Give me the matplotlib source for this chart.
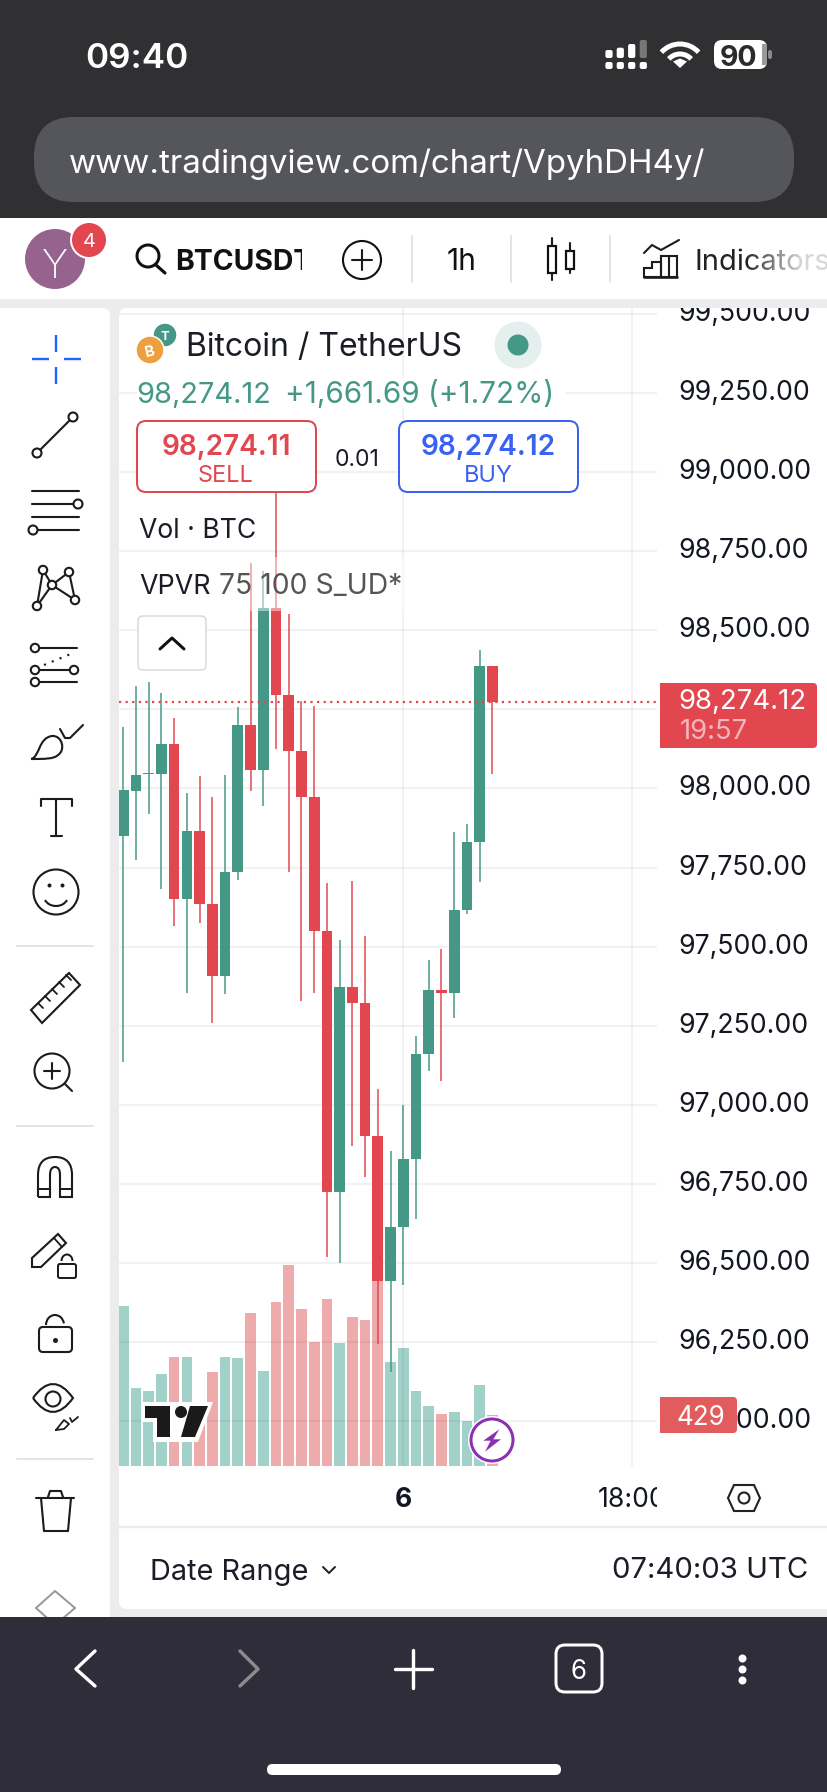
import matplotlib
matplotlib.use("Agg")
import matplotlib.pyplot as plt
from matplotlib.patches import Arc, Circle, Ellipse, Rectangle, FancyBboxPatch, Polygon, PathPatch
from matplotlib.path import Path
from matplotlib.transforms import Bbox

plt.rcParams['font.family'] = ['Inter', 'DejaVu Sans']

# hourly candles
opens = [97850, 97993, 98044, 98046, 98139, 97652, 97864, 97635, 97406, 97735,
         98200, 98059, 98570, 98294, 98117, 97973, 97550, 96724, 97372, 97323,
         96902, 96444, 96613, 96828, 97161, 97364, 97352, 97617, 97831, 98388]
highs = [98194, 98325, 98335, 98301, 98223, 97986, 98040, 97972, 98041, 98256,
         98713, 98686, 98960, 98551, 98277, 98259, 97701, 97521, 97707, 97534,
         97049, 96854, 96999, 97219, 97459, 97494, 97863, 97887, 98437, 98388]
lows = [97135, 97775, 97918, 97683, 97564, 97355, 97574, 97259, 97349, 97711,
        97993, 97945, 98125, 97736, 97329, 97352, 96518, 96501, 96871, 96771,
        96243, 96157, 96431, 96640, 97106, 97075, 97276, 97603, 97705, 98044]
closes = [97995, 98042, 98049, 98139, 97652, 97864, 97635, 97406, 97735, 98200,
          98059, 98570, 98294, 98117, 97973, 97550, 96724, 97372, 97323, 96902,
          96444, 96613, 96828, 97161, 97364, 97352, 97617, 97831, 98388, 98274]
volumes = [1348, 653, 631, 776, 914, 914, 513, 788, 914, 906,
           1284, 799, 1382, 1693, 1318, 1043, 1402, 1032, 1251, 1228,
           1591, 875, 990, 631, 507, 437, 454, 381, 681, 429]
price_ticks = [96000, 96250, 96500, 96750, 97000, 97250, 97500, 97750, 98000,
               98250, 98500, 98750, 99000, 99250, 99500]
time_ticks = [22, 40]
time_labels = ["6", "18:00"]
last_price = 98274.12

GREEN = "#459885"
RED = "#e2464f"
GREEN_VOL = "#a2d1ca"
RED_VOL = "#edabab"
DARK = "#131722"
BLUE = "#3a62f2"
PANEL = "#ececec"
ICON = "#1c1c1c"

W, H = 828, 1792
fig = plt.figure(figsize=(W / 100, H / 100), dpi=100)

def box(l, t, r, b):
    return [l / W, 1 - b / H, (r - l) / W, (b - t) / H]

def px(n):
    return n * 0.72

ax_bg = fig.add_axes([0, 0, 1, 1], zorder=0)
ax_ui = fig.add_axes([0, 0, 1, 1], zorder=3)
for a in (ax_bg, ax_ui):
    a.set_xlim(0, W)
    a.set_ylim(H, 0)
    a.axis("off")

def rect(ax, l, t, r, b, color, **kw):
    ax.add_patch(Rectangle((l, t), r - l, b - t, facecolor=color, edgecolor="none", **kw))

def rrect(ax, l, t, r, b, rad, face="white", edge="none", lw=0, **kw):
    ax.add_patch(FancyBboxPatch((l, t), r - l, b - t, boxstyle="round,pad=0,rounding_size=%s" % rad,
                                facecolor=face, edgecolor=edge, linewidth=px(lw), **kw))

def ln(xs, ys, color=ICON, lw=2.1, **kw):
    kw.setdefault("solid_capstyle", "round")
    ax_ui.plot(xs, ys, color=color, linewidth=px(lw), **kw)

def circ(x, y, r, face="white", edge=ICON, lw=2.1):
    ax_ui.add_patch(Circle((x, y), r, facecolor=face, edgecolor=edge, linewidth=px(lw), zorder=5))

def outline(pts, lw=2.1, color=ICON):
    ax_ui.add_patch(Polygon(pts, closed=True, facecolor="none", edgecolor=color, linewidth=px(lw)))

def ring(x, y, r, lw=2.1, color=ICON):
    ax_ui.add_patch(Circle((x, y), r, facecolor="none", edgecolor=color, linewidth=px(lw)))

def txt(x, y, s, size, color=DARK, ha="left", weight="normal", **kw):
    return ax_ui.text(x, y, s, fontsize=px(size), color=color, ha=ha, va="center_baseline",
                      fontweight=weight, **kw)

# page background
rect(ax_bg, 0, 0, W, 218, "#303033")
rect(ax_bg, 0, 218, W, 1617, PANEL)
rect(ax_bg, 0, 218, W, 299, "white")
rrect(ax_bg, -20, 308, 110, 1640, 8)
rrect(ax_bg, 119, 308, 860, 1609, 8)
rect(ax_bg, 0, 1617, W, H, "#2f2d3a", zorder=4)

# chart axes
chart_box = box(119, 308, 657, 1466)
x_vals = list(range(len(opens)))
xlim = (-0.33, 41.93)
ax_vol = fig.add_axes(chart_box, zorder=1)
ax_price = fig.add_axes(chart_box, zorder=2)
ax_vol.patch.set_alpha(0)
ax_price.patch.set_alpha(0)

up = [c >= o for o, c in zip(opens, closes)]
ax_vol.bar(x_vals, volumes, width=0.84, color=[GREEN_VOL if u else RED_VOL for u in up])
ax_vol.set_xlim(xlim)
ax_vol.set_ylim(0, 9739)
ax_vol.axis("off")

colors = [GREEN if u else RED for u in up]
ax_price.vlines(x_vals, lows, highs, colors=colors, linewidth=px(1.5), zorder=3)
ax_price.bar(x_vals, [c - o for o, c in zip(opens, closes)], bottom=opens, width=0.84,
             color=colors, zorder=4)
ax_price.axhline(last_price, color=RED, linestyle=(0, (1, 2)), linewidth=px(2.2), zorder=5)
ax_price.set_xlim(xlim)
ax_price.set_ylim(95859, 99518)
ax_price.set_yticks(price_ticks)
# 98,250 sits behind the price tag in the reference, so no label for it
ax_price.set_yticklabels(["" if p == 98250 else "{:,.2f}".format(p) for p in price_ticks],
                         fontsize=px(26.7), color=DARK, va="center")
ax_price.set_xticks(time_ticks)
ax_price.set_xticklabels(time_labels, fontsize=px(26.5), color=DARK)
ax_price.yaxis.tick_right()
ax_price.tick_params(axis="y", length=0, pad=px(21))
ax_price.tick_params(axis="x", length=0, pad=px(21))
ax_price.grid(True, color="black", alpha=0.05, linewidth=px(2.2), zorder=1)
ax_price.set_axisbelow(True)
for s in ax_price.spines.values():
    s.set_visible(False)
ax_price.get_xticklabels()[0].set_fontweight("bold")
lab = ax_price.get_yticklabels()[-1]
lab.set_clip_box(Bbox([[660, 0], [W, H - 308]]))
lab.set_clip_on(True)
lab = ax_price.get_xticklabels()[1]
lab.set_clip_box(Bbox([[560, 0], [657, H]]))
lab.set_clip_on(True)

# status bar
txt(85, 55, "09:40", 35, "white", weight="semibold")
for x, top, c in [(609, 50, "white"), (620.3, 47.7, "white"), (631.7, 44, "white"), (643.3, 40, "#777777")]:
    rrect(ax_ui, x - 3.6, top, x + 3.6, 58, 2, face=c)
    rrect(ax_ui, x - 3.6, 62, x + 3.6, 69, 2, face="white")
for d in (50, 30):
    ax_ui.add_patch(Arc((680, 69), d, d, theta1=222, theta2=318, edgecolor="white", linewidth=px(5)))
ax_ui.add_patch(Polygon([(673, 61.5), (680, 58.5), (687, 61.5), (680, 68)], facecolor="white", edgecolor="none"))
rrect(ax_ui, 714, 40, 767, 69, 8, face="white")
rect(ax_ui, 762, 44, 767, 65, "#9a9a9a")
rrect(ax_ui, 768, 50, 772, 59, 2, face="#8a8a8a")
txt(739, 55, "90", 28.5, "#2b2b2b", ha="center", weight="bold")

# address bar
rrect(ax_ui, 34, 117, 794, 202, 40, face="#55555c")
txt(69, 161, "www.tradingview.com/chart/VpyhDH4y/", 33.1, "white")

# top toolbar
ax_ui.add_patch(Ellipse((55, 259), 60, 60, facecolor="#96638e", edgecolor="none"))
txt(55, 264, "Y", 40, "white", ha="center", weight="light")
circ(89, 240, 19, face="white", edge="none", lw=0)
circ(89, 240, 17, face=RED, edge="none", lw=0)
txt(89, 240, "4", 20, "white", ha="center", zorder=6)
ring(148, 256, 11, lw=3, color="#111111")
ln([156, 165], [265, 273], color="#111111", lw=3.2)
t = txt(175, 259, "BTCUSDT", 28.4, "#111111", weight="bold")
t.set_clip_box(Bbox([[170, 0], [302, H]]))
t.set_clip_on(True)
ring(362, 260, 19, color="#111111")
ln([352, 372], [260, 260])
ln([362, 362], [250, 270])
for x in (412, 511, 610):
    ln([x, x], [236, 282], color="#e4e4e4", lw=2)
txt(462, 259, "1h", 30, "#111111", ha="center")
ax_ui.add_patch(Rectangle((548, 246), 8, 27, facecolor="none", edgecolor="#111111", linewidth=px(2.2)))
ln([552, 552], [238, 246])
ln([552, 552], [273, 280])
ax_ui.add_patch(Rectangle((566, 251), 8, 18, facecolor="none", edgecolor="#111111", linewidth=px(2.2)))
ln([570, 570], [243, 251])
ln([570, 570], [269, 273])
ln([644, 652, 661, 679], [253, 245, 250, 240])
outline([(644, 277), (644, 268), (652, 268), (652, 262), (661, 262), (661, 277)])
outline([(661, 277), (661, 256), (677, 256), (677, 277)])
ln([669, 669], [256, 277])
ln([644, 677], [277, 277], lw=2.6)
txt(695, 259, "Indicators", 29, "#222222")
for i in range(16):
    rect(ax_ui, 748 + i * 5, 235, 753 + i * 5, 285, "white", alpha=min(0.82, 0.1 + i * 0.07), zorder=7)

# symbol header over the chart
rect(ax_ui, 137, 378, 565, 408, "white")
circ(165, 335, 12, face=GREEN, edge="white", lw=1.5)
txt(165, 335, "T", 13, "white", ha="center", weight="bold", zorder=6)
circ(150, 350, 14, face="#ee9f3f", edge="white", lw=1.5)
txt(150, 350, "B", 15, "white", ha="center", weight="bold", zorder=6, rotation=12)
txt(186, 344, "Bitcoin / TetherUS", 32, "#1a1d27")
ax_ui.add_patch(Circle((518, 345), 23.5, facecolor="#e3f0ee", edgecolor="none"))
ax_ui.add_patch(Circle((518, 345), 10.5, facecolor=GREEN, edgecolor="none"))
txt(136, 392, "98,274.12", 29, GREEN)
txt(285, 392, "+1,661.69 (+1.72%)", 29.7, GREEN)

rrect(ax_ui, 137, 421, 316, 492, 9, edge=RED, lw=2)
txt(226, 444, "98,274.11", 28, RED, ha="center", weight="semibold")
txt(226, 474, "SELL", 23.5, RED, ha="center")
txt(357, 457, "0.01", 23, "#1a1d27", ha="center")
rrect(ax_ui, 399, 421, 578, 492, 9, edge=BLUE, lw=2)
txt(488, 444, "98,274.12", 28, BLUE, ha="center", weight="semibold")
txt(488, 474, "BUY", 23.5, BLUE, ha="center")

txt(139, 528, "Vol · BTC", 26.5, "#1a1d27")
rect(ax_ui, 139, 557, 405, 611, "white", alpha=0.45)
txt(139, 584, "VPVR", 26.8, "#1a1d27")
txt(219, 584, "75 100 S_UD*", 28.3, "#555555")
rrect(ax_ui, 138, 616, 206, 670, 5, edge="#dcdcdc", lw=1.6)
ln([160, 172, 184], [649, 638, 649], color="#111111", lw=3)

# price and volume tags
rrect(ax_ui, 660, 683, 817, 748, 4, face=RED)
rect(ax_ui, 660, 683, 680, 748, RED)
txt(678, 699, "98,274.12", 27.5, "white")
txt(680, 729, "19:57", 27.5, "#f3b6ba")
rrect(ax_ui, 660, 1397, 737, 1433, 4, face="#e25b5d")
rect(ax_ui, 660, 1397, 680, 1433, "#e25b5d")
txt(701, 1415, "429", 26, "white", ha="center")

# tradingview logo and bolt badge
ax_ui.add_patch(Polygon([(142, 1402), (213, 1402), (198, 1442), (153, 1442), (153, 1422), (142, 1422)],
                        facecolor="white", edgecolor="none"))
ax_ui.add_patch(Polygon([(145, 1406), (170, 1406), (170, 1437), (157, 1437), (157, 1418), (145, 1418)],
                        facecolor="#1a1a1a", edgecolor="none"))
ax_ui.add_patch(Circle((181, 1412), 6, facecolor="#1a1a1a", edgecolor="none"))
ax_ui.add_patch(Polygon([(190, 1406), (208, 1406), (195, 1437), (181, 1437)], facecolor="#1a1a1a", edgecolor="none"))
ax_ui.add_patch(Circle((492, 1440), 24, facecolor="white", edgecolor="none"))
ax_ui.add_patch(Circle((492, 1440), 21, facecolor="white", edgecolor="#8b2fb3", linewidth=px(3)))
ax_ui.add_patch(Polygon([(499.3, 1429.3), (483.3, 1440.7), (490.7, 1440.7), (485, 1451.7), (501, 1439.3), (493.3, 1439.3)],
                        facecolor="#8b2fb3", edgecolor="none"))

# time axis footer
outline([(734, 1485), (754, 1485), (760, 1498), (754, 1511), (734, 1511), (728, 1498)], color="#222222")
ring(744, 1498, 5.5, color="#222222")
ln([119, W], [1527, 1527], color="#ececec", lw=2.4)
txt(150, 1569, "Date Range", 29, "#1a1d27")
ln([323, 329, 335], [1567, 1573, 1567], color="#222222", lw=2)
txt(612, 1568, "07:40:03 UTC", 29.3, "#1a1d27")

# left drawing tools
cb = "#2962ff"
ln([32, 49], [359, 359], color=cb, lw=2.4, solid_capstyle="butt")
ln([64, 81], [359, 359], color=cb, lw=2.4, solid_capstyle="butt")
ln([56, 56], [335, 352], color=cb, lw=2.4, solid_capstyle="butt")
ln([56, 56], [367, 384], color=cb, lw=2.4, solid_capstyle="butt")
ln([37, 73], [453, 417])
circ(37, 453, 4.5)
circ(73, 417, 4.5)
for y in (491, 504, 517, 530):
    ln([32, 79], [y, y])
circ(78, 504, 4.5)
circ(33, 530, 4.5)
ln([43, 37, 52, 75, 69, 52, 43], [570, 606, 585, 600, 572, 585, 570])
for x, y in [(43, 570), (69, 572), (52, 585), (37, 606), (75, 600)]:
    circ(x, y, 4.2)
for y, r in [(648, 77), (670, 69), (682, 77)]:
    ln([35, r], [y, y])
ln([44, 73], [665, 653], linestyle=(0, (1, 3)))
circ(35, 648, 4.2)
circ(35, 670, 4.2)
circ(74, 670, 4.2)
circ(35, 682, 4.2)
brush = Path([(31, 759), (40, 757), (38, 738), (52, 736), (62, 735), (66, 750), (58, 755), (54, 759), (45, 759), (31, 759)],
             [Path.MOVETO] + [Path.CURVE4] * 9)
ax_ui.add_patch(PathPatch(brush, facecolor="none", edgecolor=ICON, linewidth=px(2.1)))
ln([60, 65, 70, 83], [729, 738, 738, 725])
ln([41, 41, 72, 72], [806, 799, 799, 806])
ln([56, 56], [799, 836])
ln([51, 62], [836, 836])
ring(56, 892, 22.5)
ax_ui.plot([49, 62], [885, 885], "o", color=ICON, markersize=px(4), markeredgewidth=0)
ax_ui.add_patch(Arc((56, 896), 24, 20, theta1=20, theta2=160, edgecolor=ICON, linewidth=px(2.1)))
for y in (946, 1126, 1459):
    ln([17, 93], [y, y], color="#e4e4e4", lw=2)
outline([(31, 1010), (69, 973), (80, 985), (42, 1023)])
for x, y in [(38, 1003), (45, 996), (52, 989), (59, 982), (66, 975)]:
    ln([x, x + 5], [y, y + 5], lw=1.8)
ring(52, 1071, 17.5)
ln([44, 60], [1071, 1071])
ln([52, 52], [1063, 1079])
ln([65, 72], [1084, 1091])
magnet = Path([(38, 1197), (38, 1175), (38, 1157), (55, 1157), (72, 1157), (72, 1175), (72, 1197), (60, 1197),
               (60, 1175), (60, 1167), (55, 1167), (50, 1167), (50, 1175), (50, 1197), (38, 1197)],
              [Path.MOVETO, Path.LINETO, Path.CURVE3, Path.CURVE3, Path.CURVE3, Path.CURVE3, Path.LINETO, Path.LINETO,
               Path.LINETO, Path.CURVE3, Path.CURVE3, Path.CURVE3, Path.CURVE3, Path.LINETO, Path.LINETO])
ax_ui.add_patch(PathPatch(magnet, facecolor="none", edgecolor=ICON, linewidth=px(2.1)))
ln([38, 50], [1189, 1189], lw=2)
ln([60, 72], [1189, 1189], lw=2)
outline([(32, 1258), (58, 1234), (66, 1243), (41, 1267), (32, 1267)])
ln([54, 62], [1238, 1247], lw=1.8)
rrect(ax_ui, 58, 1264, 76, 1278, 2, face="none", edge=ICON, lw=2)
ax_ui.add_patch(Arc((67, 1261), 11, 13, theta1=180, theta2=360, edgecolor=ICON, linewidth=px(2)))
rrect(ax_ui, 39, 1327, 72, 1352, 4, face="none", edge=ICON, lw=2.1)
ax_ui.add_patch(Arc((55, 1325), 18, 20, theta1=180, theta2=350, edgecolor=ICON, linewidth=px(2.1)))
ax_ui.plot([55], [1340], "o", color=ICON, markersize=px(5), markeredgewidth=0)
eye = Path([(33, 1398), (53, 1370), (73, 1398), (53, 1426), (33, 1398)],
           [Path.MOVETO, Path.CURVE3, Path.CURVE3, Path.CURVE3, Path.CURVE3])
ax_ui.add_patch(PathPatch(eye, facecolor="none", edgecolor=ICON, linewidth=px(2.1)))
ring(53, 1399, 7.5)
ln([56, 64, 69, 64, 56], [1430, 1429, 1424, 1420, 1430], lw=1.8)
ln([70, 72, 78], [1418, 1422, 1417], lw=1.8)
ln([36, 74], [1498, 1498])
ln([48, 50, 61, 63], [1497, 1491, 1491, 1497])
ln([41, 44, 68, 71], [1498, 1531, 1531, 1498])
ln([36, 55, 75], [1608, 1591, 1608], color="#999999", lw=2)
ln([36, 55, 75], [1608, 1625, 1608], color="#999999", lw=2)
rect(ax_ui, 0, 1617, W, H, "#2f2d3a", zorder=4)

# browser bottom bar
ln([95, 76, 95], [1651, 1669, 1686], color="white", lw=3.4, zorder=5)
ln([240, 258, 240], [1651, 1669, 1686], color="#8c8c8c", lw=3.4, zorder=5)
ln([395, 432], [1669, 1669], color="white", lw=3.4, zorder=5)
ln([413.5, 413.5], [1650, 1688], color="white", lw=3.4, zorder=5)
rrect(ax_ui, 556, 1645, 602, 1692, 9, face="none", edge="white", lw=3, zorder=5)
txt(579, 1669, "6", 26, "white", ha="center", zorder=5)
ax_ui.plot([742, 742, 742], [1658, 1669, 1680], "o", color="white", markersize=px(8), markeredgewidth=0, zorder=5)
rrect(ax_ui, 267, 1764, 561, 1775, 5.5, face="white", zorder=5)

fig.savefig("out.png", dpi=100)
